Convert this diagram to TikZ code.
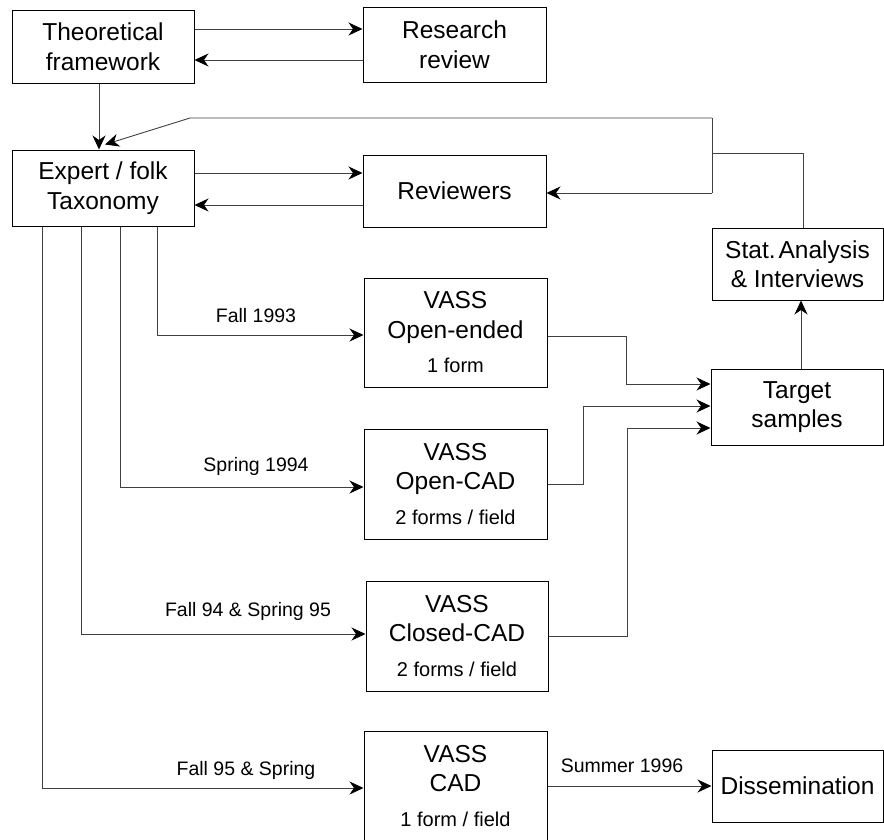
\documentclass[tikz,border=0pt]{standalone}
\usepackage{fontspec}
\setmainfont{Liberation Sans}
\usetikzlibrary{arrows.meta}
\newcommand{\vsub}{\fontsize{20}{24}\selectfont}
\begin{document}
\begin{tikzpicture}[x=1pt,y=-1pt,
  box/.style={draw=black, line width=1pt, align=center, inner sep=0pt,
    font=\fontsize{24.5}{29.5}\selectfont},
  conn/.style={draw=black!75, line width=0.9pt},
  arr/.style={conn, -{Stealth[length=14pt,width=13pt,inset=4.5pt,color=black]}},
  lab/.style={font=\fontsize{19.5}{23}\selectfont, inner sep=0pt, anchor=base},
]
\useasboundingbox (0,0) rectangle (884,839);
\clip (0,0) rectangle (884,839);

% boxes
\node[box, minimum width=182pt, minimum height=73pt] (theo) at (103,46.5) {Theoretical\\framework};
\node[box, minimum width=183pt, minimum height=75pt] (res) at (454.5,44.5) {Research\\review};
\node[box, minimum width=182pt, minimum height=76pt] (exp) at (103,188) {Expert / folk\\Taxonomy};
\node[box, minimum width=183pt, minimum height=72pt] (rev) at (454.5,191) {Reviewers};
\node[box, minimum width=171pt, minimum height=72pt] (stat) at (797.5,264) {Stat.\hspace{0.12em}Analysis\\\& Interviews};
\node[box, minimum width=172pt, minimum height=76pt] (target) at (797,407) {Target\\samples};
\node[box, minimum width=183pt, minimum height=109pt] (open) at (455.5,332.5) {VASS\\Open-ended\\[5pt]{\vsub 1 form}};
\node[box, minimum width=183pt, minimum height=110pt] (opencad) at (455.5,484) {VASS\\Open-CAD\\[5pt]{\vsub 2 forms / field}};
\node[box, minimum width=182pt, minimum height=110pt] (closed) at (457,636) {VASS\\Closed-CAD\\[5pt]{\vsub 2 forms / field}};
\node[box, minimum width=183pt, minimum height=110pt] (cad) at (455.5,786) {VASS\\CAD\\[5pt]{\vsub 1 form / field}};
\node[box, minimum width=171pt, minimum height=72pt] (diss) at (797.5,786) {Dissemination};

% helper coordinates
\coordinate (ya) at (0,29);
\coordinate (yb) at (0,60);
\coordinate (yc) at (0,173);
\coordinate (yd) at (0,205);
\coordinate (b1) at (157,335);
\coordinate (b2) at (120,487);
\coordinate (b3) at (81,634);
\coordinate (b4) at (42,788);
\coordinate (m1) at (626,336);
\coordinate (m2) at (583,484);
\coordinate (m3) at (627,636);
\coordinate (t1) at (0,384);
\coordinate (t2) at (0,406);
\coordinate (t3) at (0,428);
\coordinate (sx) at (801,0);
\coordinate (f1) at (803,153);
\coordinate (jm) at (712,153);
\coordinate (jt) at (712,118);
\coordinate (jb) at (712,193);
\coordinate (bend) at (190,118);

% top connectors
\draw[arr] (theo.east |- ya) -- (res.west |- ya);
\draw[arr] (res.west |- yb) -- (theo.east |- yb);
\draw[arr] ([xshift=-4pt]theo.south) -- ([xshift=-4pt]exp.north);
\draw[arr] (exp.east |- yc) -- (rev.west |- yc);
\draw[arr] (rev.west |- yd) -- (exp.east |- yd);

% branches from taxonomy
\draw[arr] (exp.south -| b1) |- (open.west |- b1);
\draw[arr] (exp.south -| b2) |- (opencad.west |- b2);
\draw[arr] (exp.south -| b3) |- (closed.west |- b3);
\draw[arr] (exp.south -| b4) |- (cad.west |- b4);

% to target samples
\draw[arr] (open.east |- m1) -- (m1) |- (target.west |- t1);
\draw[arr] (opencad.east |- m2) -- (m2) |- (target.west |- t2);
\draw[arr] (closed.east |- m3) -- (m3) |- (target.west |- t3);
\draw[arr] (target.north -| sx) -- (stat.south -| sx);

% feedback
\draw[conn] (stat.north -| f1) -- (f1) -- (jm);
\draw[conn] (jt) -- (jb);
\draw[arr] (jt) -- (bend) -- ([xshift=2pt,yshift=5pt]exp.north);
\draw[arr] (jb) -- (rev.east |- jb);

% dissemination
\draw[arr] (cad.east) -- (diss.west);

% labels
\node[lab] (l1) at (256,322) {Fall 1993};
\node[lab] (l2) at (256,471) {Spring 1994};
\node[lab] (l3) at (248,616) {Fall 94 \& Spring 95};
\node[lab] (l4) at (246,775) {Fall 95 \& Spring};
\node[lab] (l5) at (622,772) {Summer 1996};
\end{tikzpicture}
\end{document}
